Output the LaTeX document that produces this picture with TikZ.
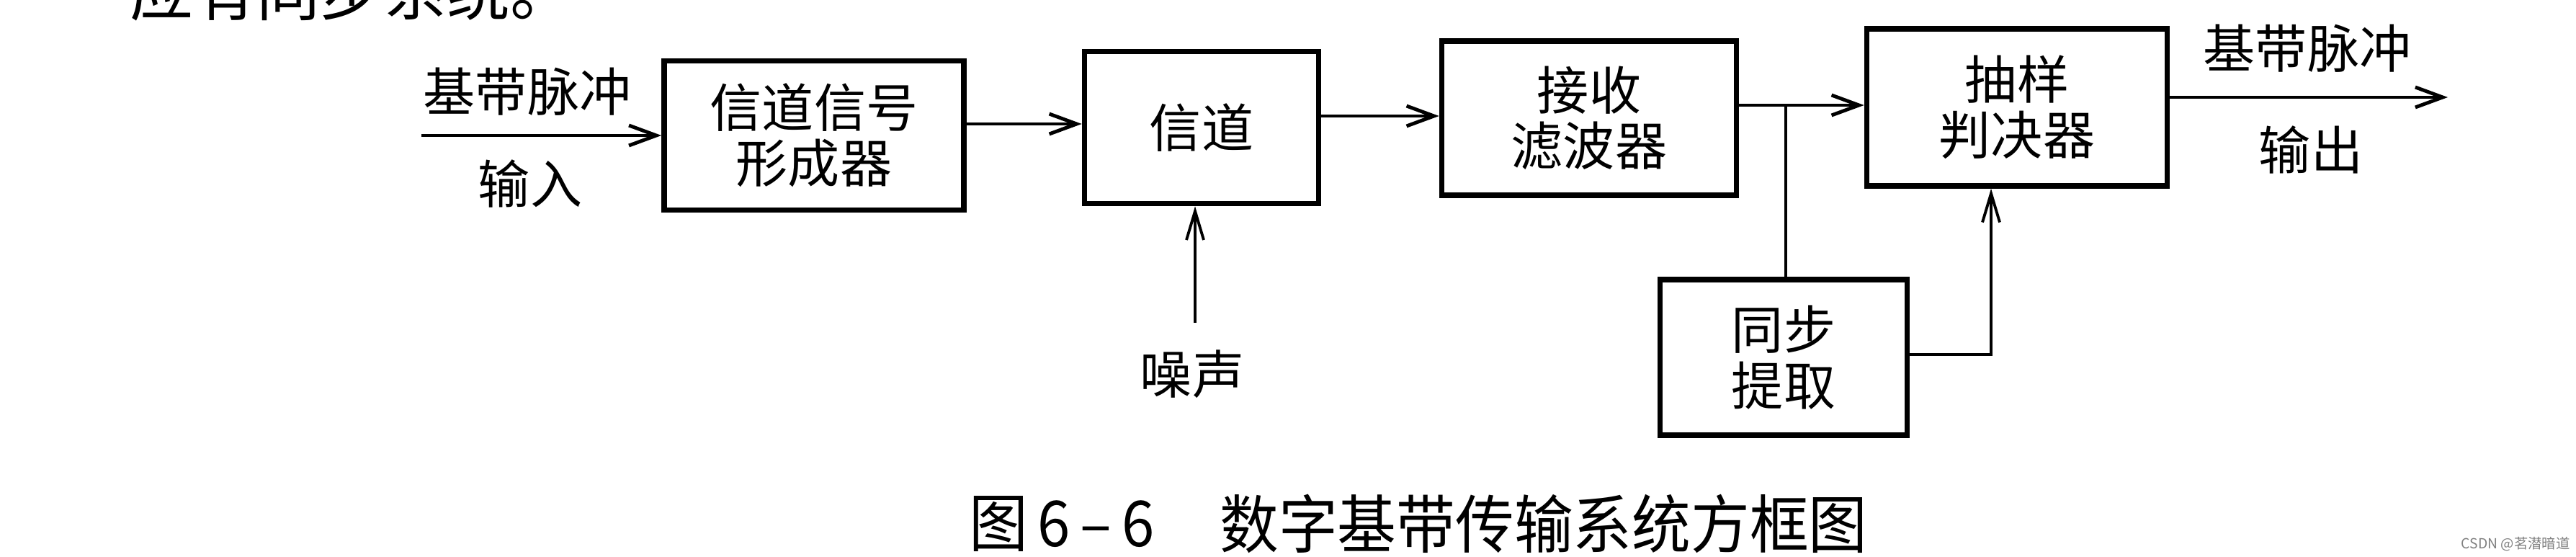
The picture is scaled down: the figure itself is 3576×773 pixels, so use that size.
\documentclass[tikz,border=0pt]{standalone}
\usepackage{fontspec}
\setmainfont{Noto Sans CJK SC}
\usetikzlibrary{arrows.meta,calc}
\begin{document}
\begin{tikzpicture}[x=0.01cm,y=-0.01cm,
  blk/.style={draw,line width=2.1pt,inner sep=0pt,align=center,font=\fontsize{20.5}{22}\selectfont},
  lbl/.style={inner sep=0pt,font=\fontsize{20.5}{22}\selectfont},
  arr/.style={line width=1.4pt,-{Straight Barb[length=3.8mm,width=2.8mm]}},
  thinline/.style={line width=1.1pt},
  thinarr/.style={line width=1.1pt,-{Straight Barb[length=4mm,width=2.4mm]}},
  capt/.style={inner sep=0pt,font=\fontsize{25}{25}\selectfont}]
\useasboundingbox (0,0) rectangle (3576,773);
\clip (0,0) rectangle (3576,773);
% partial line of book text above the figure
\node[inner sep=0pt,font=\fontsize{25}{25}\selectfont,anchor=base west] (toptext) at (180,22) {应有同步系统。};
% blocks
\node[blk,minimum width=4.16cm,minimum height=2.07cm] (b1) at (1130,188) {信道信号\\形成器};
\node[blk,minimum width=3.25cm,minimum height=2.11cm] (b2) at (1668,177) {信道};
\node[blk,minimum width=4.09cm,minimum height=2.14cm] (b3) at (2206,164) {接收\\滤波器};
\node[blk,minimum width=4.17cm,minimum height=2.18cm] (b4) at (2800,149) {抽样\\判决器};
\node[blk,minimum width=3.43cm,minimum height=2.16cm] (sy) at (2476,496) {同步\\提取};
% labels
\node[lbl] (inA) at (732,127) {基带脉冲};
\node[lbl] (inB) at (736,255) {输入};
\node[lbl] (outA) at (3203,67) {基带脉冲};
\node[lbl] (outB) at (3208,208) {输出};
\node[lbl] (noise) at (1655,519) {噪声};
% helper coordinates
\coordinate (src) at (585,188);
\coordinate (y12) at (0,172);
\coordinate (y23) at (0,161);
\coordinate (y34) at (0,146);
\coordinate (j) at (2479,146);
\coordinate (yout) at (0,135);
\coordinate (dst) at (3398,135);
\coordinate (nz) at (1659,448);
\coordinate (ys) at (0,492);
\coordinate (sc) at (2764,492);
% connectors
\draw[arr] (src) -- (b1.west);
\draw[arr] (b1.east |- y12) -- (b2.west |- y12);
\draw[arr] (b2.east |- y23) -- (b3.west |- y23);
\draw[arr] (b3.east |- y34) -- (b4.west |- y34);
\draw[arr] (b4.east |- yout) -- (dst);
\draw[thinarr] (nz) -- (nz |- b2.south);
\draw[thinline] (j) -- (j |- sy.north);
\draw[thinarr] (sy.east |- ys) -- (sc) -- (sc |- b4.south);
% caption
\node[capt] (capA) at (1474,727) {\scalebox{0.93}[1]{图\,6\,–\,6}};
\node[capt] (capB) at (2143,727) {\scalebox{0.93}[1]{数字基带传输系统方框图}};
% watermark
\node[inner sep=0pt,text=gray,font=\fontsize{5.5}{6}\selectfont] (wm) at (3492,755) {CSDN @茗潜暗道};
\end{tikzpicture}
\end{document}
